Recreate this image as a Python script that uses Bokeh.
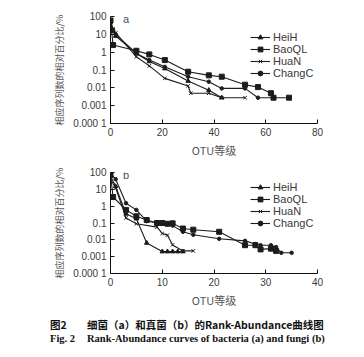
from bokeh.plotting import figure
from bokeh.models import Range1d, FixedTicker, Legend, LegendItem, Label, Div
from bokeh.layouts import column
from bokeh.embed import file_html
from bokeh.resources import INLINE

# ---------------- data ----------------
series_names = ["HeiH", "BaoQL", "HuaN", "ChangC"]

# panel a (bacteria)
a_heih_x = [0, 1, 2, 10, 15, 21, 30, 38, 43]
a_heih_y = [30, 15, 8, 0.85, 0.3, 0.12, 0.024, 0.0074, 0.0028]
a_baoql_x = [0, 1, 10, 15, 21, 30, 38, 43, 52, 57, 62, 63, 69]
a_baoql_y = [60, 2.5, 1.2, 0.75, 0.36, 0.08, 0.05, 0.042, 0.015, 0.011, 0.005, 0.0028, 0.0028]
a_huan_x = [0, 1, 2, 10, 15, 21, 30, 31, 38, 43, 52]
a_huan_y = [50, 20, 12, 0.55, 0.17, 0.034, 0.0126, 0.005, 0.005, 0.0028, 0.0028]
a_changc_x = [0, 1, 2, 10, 15, 21, 30, 38, 43, 52, 57, 63]
a_changc_y = [40, 18, 10, 0.85, 0.36, 0.15, 0.042, 0.022, 0.0093, 0.0093, 0.0028, 0.0028]

# panel b (fungi)
b_heih_x = [0, 1, 3, 5, 7, 10, 11, 12, 13, 14]
b_heih_y = [60, 15, 0.35, 0.18, 0.0065, 0.002, 0.002, 0.002, 0.002, 0.002]
b_baoql_x = [0, 0.5, 3, 5, 7, 9, 10, 11, 12, 14, 16, 21, 26, 28, 29, 31, 32]
b_baoql_y = [70, 3.5, 0.6, 0.25, 0.15, 0.1, 0.1, 0.09, 0.095, 0.047, 0.04, 0.03,
             0.0048, 0.0048, 0.0027, 0.003, 0.0022]
b_huan_x = [0, 1, 3, 5, 9, 10, 11, 12, 14, 16]
b_huan_y = [40, 12, 0.2, 0.09, 0.057, 0.024, 0.019, 0.005, 0.0022, 0.0022]
b_changc_x = [0, 1, 3, 5, 7, 9, 10, 11, 12, 14, 16, 21, 26, 28, 29, 31, 32, 33, 35]
b_changc_y = [85, 40, 1.5, 0.6, 0.13, 0.1, 0.09, 0.085, 0.07, 0.03, 0.02, 0.0115,
              0.0087, 0.0056, 0.0048, 0.0048, 0.0037, 0.0017, 0.0017]

y_ticks = [0.0001, 0.001, 0.01, 0.1, 1, 10, 100]
y_tick_labels = ["0.000 1", "0.001", "0.01", "0.1", "1", "10", "100"]
a_x_ticks = [0, 20, 40, 60, 80]
b_x_ticks = [0, 10, 20, 30, 40]

y_title = "相应序列数的相对百分比/%"
x_title = "OTU等级"
caption_cn_1 = "图2"
caption_cn_2 = "细菌（a）和真菌（b）的Rank-Abundance曲线图"
caption_en_1 = "Fig. 2"
caption_en_2 = "Rank-Abundance curves of bacteria (a) and fungi (b)"

# ---------------- style ----------------
LINE = "#1c1c1c"
TXT = "#3a3a3a"
markers = {"HeiH": ("triangle", 4.5), "BaoQL": ("square", 5), "HuaN": ("x", 5), "ChangC": ("circle", 3.5)}


def panel(xs, ys, xmax, xticks, height, top, bottom, tag, tag_x, tag_y):
    p = figure(width=364, height=height, output_backend="svg", toolbar_location=None,
               y_axis_type="log", x_range=Range1d(0, xmax), y_range=Range1d(0.0001, 100),
               min_border_left=110, min_border_right=47, min_border_top=top,
               min_border_bottom=bottom, background_fill_color=None,
               border_fill_color="white", outline_line_color=None)
    p.grid.visible = False
    items = []
    for name, x, y in zip(series_names, xs, ys):
        r1 = p.line(x, y, line_color=LINE, line_width=1.1)
        mk, sz = markers[name]
        r2 = p.scatter(x, y, marker=mk, size=sz, fill_color=LINE, line_color=LINE, line_width=1)
        items.append(LegendItem(label=name, renderers=[r1, r2]))
    leg = Legend(items=items, location=(140, 44), padding=0, margin=0, spacing=0,
                 glyph_width=20, glyph_height=12, label_height=12, label_standoff=3,
                 label_text_font="Liberation Sans", label_text_font_size="11px",
                 label_text_color=TXT, background_fill_alpha=0, border_line_color=None)
    p.add_layout(leg)
    for ax in (p.xaxis[0], p.yaxis[0]):
        ax.axis_line_color = "#111111"
        ax.axis_line_width = 1
        ax.major_tick_line_color = "#111111"
        ax.major_tick_in = 4
        ax.major_tick_out = 0
        ax.minor_tick_line_color = None
        ax.major_label_text_font = "Liberation Sans"
        ax.major_label_text_font_size = "10px"
        ax.major_label_text_color = TXT
        ax.major_label_standoff = 4
        ax.axis_label_text_font_style = "normal"
        ax.axis_label_text_color = "#555555"
    p.yaxis.ticker = FixedTicker(ticks=y_ticks)
    overrides = {}
    for t, lab in zip(y_ticks, y_tick_labels):
        overrides[int(t) if t >= 1 else t] = lab
    p.yaxis.major_label_overrides = overrides
    p.yaxis.axis_label = y_title
    p.yaxis.axis_label_text_font = "Noto Sans CJK SC"
    p.yaxis.axis_label_text_font_size = "9px"
    p.yaxis.axis_label_standoff = 4
    p.xaxis.ticker = FixedTicker(ticks=xticks)
    p.xaxis.axis_label = x_title
    p.xaxis.axis_label_text_font = "Noto Sans CJK SC"
    p.xaxis.axis_label_text_font_size = "11px"
    p.xaxis.axis_label_standoff = 3
    p.add_layout(Label(x=tag_x, y=tag_y, text=tag, text_font="Liberation Sans",
                       text_font_size="11px", text_color="#34557a", text_baseline="middle"))
    return p


pa = panel([a_heih_x, a_baoql_x, a_huan_x, a_changc_x],
           [a_heih_y, a_baoql_y, a_huan_y, a_changc_y],
           80, a_x_ticks, 160, 16, 37, "a", 4.8, 72)
pb = panel([b_heih_x, b_baoql_x, b_huan_x, b_changc_x],
           [b_heih_y, b_baoql_y, b_huan_y, b_changc_y],
           40, b_x_ticks, 150, 12, 33, "b", 2.4, 74)

cn_font = "font-family:'Noto Sans CJK SC';font-weight:bold;font-size:10.5px;line-height:14px;"
en_font = "font-family:'Liberation Serif';font-weight:bold;font-size:10.5px;line-height:14px;"
html = (
    '<div style="position:relative;width:364px;height:47px;color:#111;white-space:nowrap;">'
    f'<span style="position:absolute;left:50px;top:8px;{cn_font}">{caption_cn_1}</span>'
    f'<span style="position:absolute;left:87px;top:8px;{cn_font}">{caption_cn_2}</span>'
    f'<span style="position:absolute;left:50px;top:22px;{en_font}">{caption_en_1}</span>'
    f'<span style="position:absolute;left:87px;top:22px;{en_font}">{caption_en_2}</span>'
    '</div>'
)
pc = Div(text=html, width=364, height=47, margin=0)

layout = column(pa, pb, pc, spacing=0)
open("out.html", "w").write(file_html(layout, INLINE))
